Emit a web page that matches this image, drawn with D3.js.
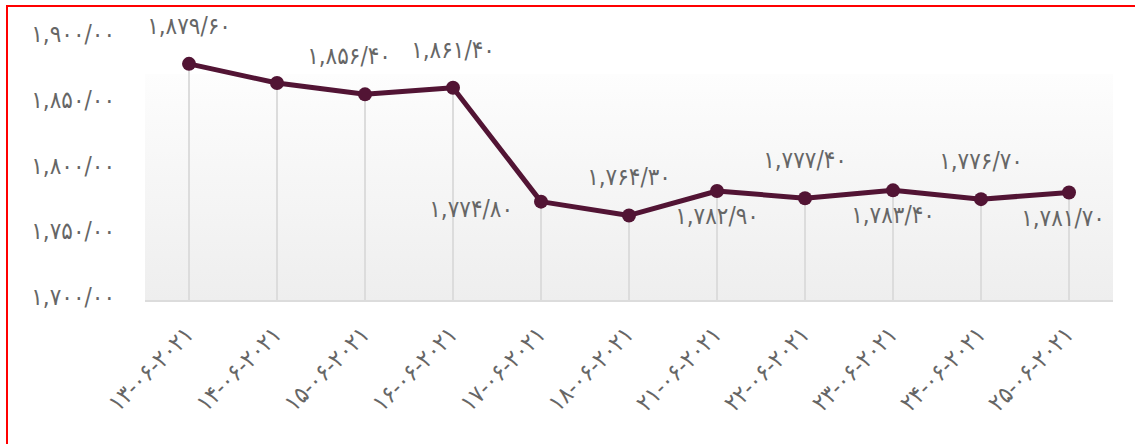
<!DOCTYPE html>
<html>
<head>
<meta charset="utf-8">
<script src="https://cdn.jsdelivr.net/npm/d3@7"></script>
<style>
  body { margin: 0; background: #fff; }
  text { font-family: "DejaVu Sans Condensed", "DejaVu Sans", sans-serif; fill: #666; }
</style>
</head>
<body>
<svg id="chart" width="1135" height="444"></svg>
<script>
(function() {

  var dates = ["۱۳-۰۶-۲۰۲۱", "۱۴-۰۶-۲۰۲۱", "۱۵-۰۶-۲۰۲۱", "۱۶-۰۶-۲۰۲۱", "۱۷-۰۶-۲۰۲۱",
               "۱۸-۰۶-۲۰۲۱", "۲۱-۰۶-۲۰۲۱", "۲۲-۰۶-۲۰۲۱", "۲۳-۰۶-۲۰۲۱", "۲۴-۰۶-۲۰۲۱",
               "۲۵-۰۶-۲۰۲۱"];
  var prices = [1879.6, 1865.0, 1856.4, 1861.4, 1774.8, 1764.3, 1782.9, 1777.4, 1783.4, 1776.7, 1781.7];
  var yTicks = [1700, 1750, 1800, 1850, 1900];

  // where each value label sits around its point (null = hidden)
  var labelPlace = [
    {pos : "top"}, null, {pos : "top", dx : -16}, {pos : "top"}, {pos : "left"},
    {pos : "top"}, {pos : "bottom"}, {pos : "top"}, {pos : "bottom"}, {pos : "top"}, {pos : "bottom", dx : -6}
  ];

  var FA = "۰۱۲۳۴۵۶۷۸۹";
  function toFa(s) {
    return s.replace(/[0-9]/g, d => FA[+d]).replace(".", "/");
  }
  var fmt = d3.format(",.2f");
  var FS = 24;

  var svg = d3.select("#chart");
  var left = 145, right = 1113, top = 37, bottom = 300;

  var x = d3.scaleBand().domain(dates).range([left, right]);
  var y = d3.scaleLinear().domain([1700, 1900]).range([bottom, top]);

  // red frame (only top and left are inside the picture)
  svg.append("rect")
    .attr("x", 7).attr("y", 6)
    .attr("width", 1200).attr("height", 500)
    .attr("fill", "none").attr("stroke", "#ff0000").attr("stroke-width", 2);

  var grad = svg.append("defs").append("linearGradient")
    .attr("id", "bg").attr("x1", 0).attr("y1", 0).attr("x2", 0).attr("y2", 1);
  grad.append("stop").attr("offset", "0%").attr("stop-color", "#fdfdfd");
  grad.append("stop").attr("offset", "100%").attr("stop-color", "#eeeeee");

  svg.append("rect")
    .attr("x", left).attr("y", 74)
    .attr("width", right - left).attr("height", bottom - 74)
    .attr("fill", "url(#bg)");

  // y labels
  svg.append("g").selectAll("text")
    .data(yTicks)
    .enter().append("text")
    .attr("x", 115)
    .attr("y", d => y(d) - 3)
    .attr("text-anchor", "end")
    .attr("dominant-baseline", "central")
    .attr("font-size", FS)
    .text(d => toFa(fmt(d)));

  // drop lines
  svg.append("g").selectAll("line")
    .data(prices)
    .enter().append("line")
    .attr("x1", (d, i) => x(dates[i]) + x.bandwidth() / 2)
    .attr("x2", (d, i) => x(dates[i]) + x.bandwidth() / 2)
    .attr("y1", d => y(d))
    .attr("y2", bottom)
    .attr("stroke", "#dcdcdc")
    .attr("stroke-width", 2);

  // x axis line
  svg.append("line")
    .attr("x1", left).attr("x2", right)
    .attr("y1", bottom + 1).attr("y2", bottom + 1)
    .attr("stroke", "#dcdcdc").attr("stroke-width", 2);

  // x labels
  svg.append("g").selectAll("text")
    .data(dates)
    .enter().append("text")
    .attr("transform", d => "translate(" + (x(d) + x.bandwidth() / 2 + 6) + "," + 336 + ") rotate(-45)")
    .attr("text-anchor", "end")
    .attr("font-size", FS)
    .text(d => d);

  var line = d3.line()
    .x((d, i) => x(dates[i]) + x.bandwidth() / 2)
    .y(d => y(d));

  svg.append("path")
    .datum(prices)
    .attr("d", line)
    .attr("fill", "none")
    .attr("stroke", "#521434")
    .attr("stroke-width", 5)
    .attr("stroke-linejoin", "round");

  svg.append("g").selectAll("circle")
    .data(prices)
    .enter().append("circle")
    .attr("cx", (d, i) => x(dates[i]) + x.bandwidth() / 2)
    .attr("cy", d => y(d))
    .attr("r", 7)
    .attr("fill", "#521434");

  // value labels
  svg.append("g").selectAll("text")
    .data(prices.map((v, i) => ({v : v, i : i, p : labelPlace[i]})).filter(d => d.p))
    .enter().append("text")
    .attr("x", d => {
      var cx = x(dates[d.i]) + x.bandwidth() / 2 + (d.p.dx || 0);
      return d.p.pos === "left" ? cx - 28 : cx;
    })
    .attr("y", d => {
      var cy = y(d.v);
      if (d.p.pos === "top") return cy - 38;
      if (d.p.pos === "bottom") return cy + 25;
      return cy + 7;
    })
    .attr("text-anchor", d => d.p.pos === "left" ? "end" : "middle")
    .attr("dominant-baseline", "central")
    .attr("font-size", FS)
    .text(d => toFa(fmt(d.v)));

})();
</script>
</body>
</html>
